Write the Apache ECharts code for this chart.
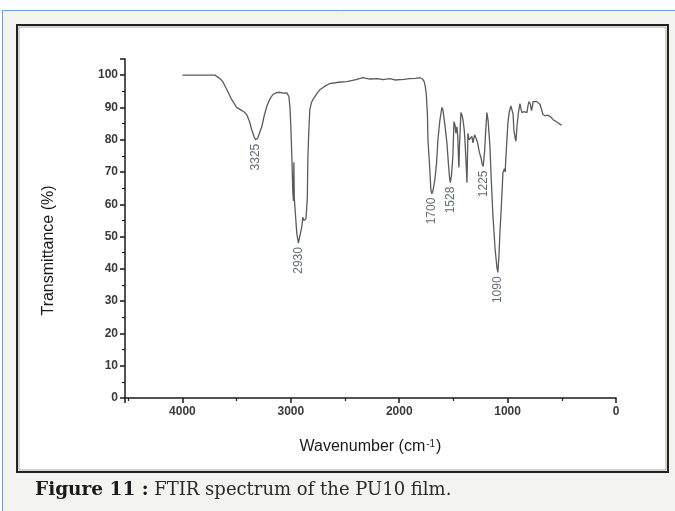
<!DOCTYPE html>
<html>
<head>
<meta charset="utf-8">
<title>FTIR spectrum of the PU10 film</title>
<script src="https://cdn.jsdelivr.net/npm/echarts@6/dist/echarts.min.js"></script>
<style>
  html, body { margin: 0; padding: 0; background: #ffffff; }
  #chart { width: 675px; height: 511px; }
</style>
</head>
<body>
<div id="chart"></div>
<script>
// Wavenumber (cm-1) of each sampled point of the spectrum
const wavenumbers = [
  4000, 3700, 3683, 3650, 3628, 3590, 3545, 3500, 3470, 3452, 3430, 3406, 3380, 3360, 3340, 3325,
  3305, 3290, 3268, 3245, 3222, 3195, 3166, 3130, 3102, 3070, 3037, 3025, 3018, 3008, 3000, 2990,
  2982, 2976, 2972, 2968, 2960, 2945, 2930, 2918, 2899, 2890, 2880, 2871, 2860, 2853, 2848, 2843,
  2835, 2825, 2810, 2797, 2760, 2732, 2690, 2640, 2560, 2483, 2400, 2335, 2271, 2200, 2150, 2086,
  2040, 2022, 1960, 1902, 1850, 1810, 1785, 1770, 1760, 1750, 1740, 1735, 1720, 1708, 1700, 1690,
  1671, 1655, 1643, 1625, 1606, 1597, 1580, 1560, 1545, 1535, 1528, 1518, 1505, 1495, 1485, 1477,
  1468, 1460, 1452, 1449, 1444, 1431, 1420, 1412, 1400, 1394, 1382, 1375, 1370, 1366, 1356, 1348,
  1338, 1329, 1320, 1305, 1292, 1280, 1274, 1260, 1246, 1235, 1225, 1212, 1200, 1191, 1180, 1163,
  1150, 1135, 1115, 1099, 1090, 1080, 1071, 1060, 1043, 1030, 1022, 1018, 1010, 997, 985, 970,
  960, 950, 942, 930, 923, 914, 900, 886, 876, 868, 858, 849, 835, 822, 812, 803,
  790, 780, 775, 770, 766, 750, 729, 715, 701, 688, 674, 655, 637, 628, 618, 600,
  581, 560, 545, 525, 508, 500
];

// Transmittance (%) at each wavenumber above
const transmittance = [
  100, 100, 99.8, 98.8, 98, 95.5, 92.4, 90, 89.4, 89.2, 88.6, 87.7, 85.5, 83, 81, 80,
  80.5, 82, 84, 87.5, 90.3, 92.5, 94, 94.6, 94.7, 94.4, 94.5, 94.2, 93.4, 90, 84, 74,
  64, 61, 73, 62, 58, 51, 48, 50, 53, 56, 55, 54.6, 55.5, 56, 62, 73.8,
  82, 89.3, 91.5, 92.4, 94.3, 95.5, 96.5, 97.4, 97.8, 98, 98.6, 99.2, 98.8, 98.9, 98.6, 98.9,
  98.5, 98.3, 98.7, 98.9, 99, 99.2, 98.8, 98, 96.5, 94, 88, 80, 72, 64.5, 63.3, 64,
  67.6, 73, 80, 86, 90, 89.3, 85, 79, 72, 68, 66.7, 69, 74.8, 85.6, 84.5, 82,
  84, 81, 73, 71.4, 78, 88.4, 87.5, 86.2, 83, 80, 72, 66.7, 75, 82, 80, 79.5,
  80.5, 81, 79, 81.5, 81, 79.5, 78.5, 76, 74.5, 72.5, 71.7, 76.5, 84, 88.4, 86, 77.9,
  67, 56.2, 46, 40.5, 38.9, 44, 51.2, 58, 69.8, 71, 70, 73.2, 78, 85.3, 88.5, 90.5,
  91, 88, 83, 80.5, 79.5, 84, 88.5, 91.2, 89.5, 88.4, 88.2, 88.7, 89, 88.4, 90.5, 91.8,
  91, 89, 88.4, 90.5, 91.8, 92, 91.8, 91.5, 90.9, 89.5, 87.8, 87.4, 87.2, 87.6, 87.8, 87,
  86.2, 85.8, 85.6, 85, 84.7, 84.5
];

// Annotated absorption bands (wavenumber, transmittance at the band minimum)
const bandWavenumbers = [3325, 2930, 1700, 1528, 1225, 1090];
const bandTransmittance = [80, 48, 63.3, 66.7, 71.7, 38.9];

// Axis ticks
const xTickStep = 1000;
const yTickStep = 10;

const spectrum = wavenumbers.map((w, i) => [w, transmittance[i]]);
const bands = bandWavenumbers.map((w, i) => [w, bandTransmittance[i]]);

const chart = echarts.init(document.getElementById('chart'), null, { renderer: 'canvas' });

const sans = 'Liberation Sans, Arial, sans-serif';
const serif = 'DejaVu Serif, serif';
const tickFont = { fontFamily: sans, fontSize: 12, fontWeight: 'bold', color: '#3a3a3a' };

chart.setOption({
  animation: false,
  backgroundColor: '#ffffff',
  graphic: [
    {
      type: 'rect', z: -10, silent: true,
      shape: { x: 2.5, y: 10.5, width: 680, height: 510 },
      style: { fill: '#f3f3ef', stroke: '#6d9de0', lineWidth: 1 }
    },
    {
      type: 'rect', z: -9, silent: true,
      shape: { x: 17, y: 25, width: 651, height: 447 },
      style: { fill: '#ffffff', stroke: '#222222', lineWidth: 2 }
    },
    {
      type: 'rect', z: -8, silent: true,
      shape: { x: 19, y: 27, width: 647, height: 443 },
      style: { fill: 'none', stroke: '#a8a8a8', lineWidth: 1 }
    },
    {
      type: 'text', z: 10, silent: true,
      left: 35, top: 481,
      style: {
        text: '{b|Figure 11 :}{r| FTIR spectrum of the PU10 film.}',
        rich: {
          b: { fontFamily: serif, fontWeight: 'bold', fontSize: 18.5, fill: '#1a1a1a' },
          r: { fontFamily: serif, fontSize: 18, fill: '#2a2a2a' }
        }
      }
    }
  ],
  grid: { left: 125, right: 59, top: 59, bottom: 113, containLabel: false },
  xAxis: {
    type: 'value',
    inverse: true,
    min: 0,
    max: 4530,
    interval: xTickStep,
    name: '{a|Wavenumber (cm}{s|-1}{a|)}',
    nameLocation: 'middle',
    nameGap: 41,
    nameTextStyle: {
      rich: {
        a: { fontFamily: sans, fontSize: 16, color: '#1a1a1a' },
        s: { fontFamily: sans, fontSize: 10, color: '#1a1a1a', verticalAlign: 'top', padding: [0, 1, 4, 1] }
      }
    },
    axisLine: { show: true, onZero: false, lineStyle: { color: '#1a1a1a', width: 1.5 } },
    axisTick: { show: true, inside: false, length: 5, lineStyle: { color: '#1a1a1a', width: 1.5 } },
    minorTick: { show: true, splitNumber: 2, length: 3, lineStyle: { color: '#1a1a1a', width: 1.2 } },
    splitLine: { show: false },
    axisLabel: {
      ...tickFont,
      margin: 8,
      formatter: v => (v % xTickStep === 0 ? String(v) : '')
    }
  },
  yAxis: {
    type: 'value',
    min: 0,
    max: 105,
    interval: yTickStep,
    name: 'Transmittance (%)',
    nameLocation: 'middle',
    nameGap: 68,
    nameTextStyle: { fontFamily: sans, fontSize: 16, color: '#1a1a1a', padding: [0, 44, 0, 0] },
    axisLine: { show: true, onZero: false, lineStyle: { color: '#1a1a1a', width: 1.5 } },
    axisTick: { show: true, inside: false, length: 5, lineStyle: { color: '#1a1a1a', width: 1.5 } },
    minorTick: { show: true, splitNumber: 2, length: 3, lineStyle: { color: '#1a1a1a', width: 1.2 } },
    splitLine: { show: false },
    axisLabel: {
      ...tickFont,
      margin: 7,
      formatter: v => (v % yTickStep === 0 ? String(v) : '')
    }
  },
  series: [
    {
      name: 'PU10',
      type: 'line',
      data: spectrum,
      showSymbol: false,
      symbol: 'none',
      lineStyle: { color: '#5a5a5a', width: 1.3 },
      z: 3
    },
    {
      name: 'bands',
      type: 'scatter',
      data: bands,
      symbolSize: 0,
      z: 4,
      label: {
        show: true,
        position: 'bottom',
        distance: 4,
        rotate: 90,
        align: 'right',
        verticalAlign: 'middle',
        formatter: p => String(p.value[0]),
        fontFamily: sans,
        fontSize: 12,
        color: '#3c4657'
      }
    }
  ]
});
</script>
</body>
</html>
